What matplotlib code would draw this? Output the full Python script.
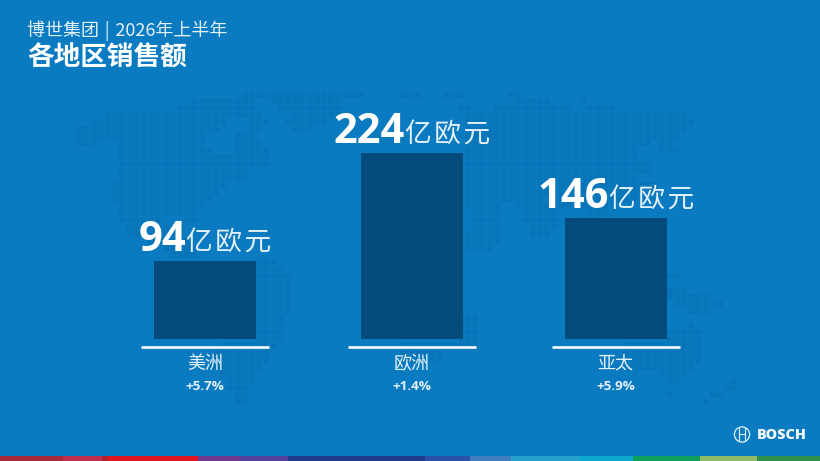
import matplotlib
matplotlib.use("Agg")
import matplotlib.pyplot as plt
from matplotlib.patches import Circle, Rectangle

CJK = ['Noto Sans CJK SC', 'DejaVu Sans']
LAT = ['Open Sans', 'Noto Sans CJK SC', 'DejaVu Sans']

# ---- data ----
categories = ['美洲', '欧洲', '亚太']
sales = [94, 224, 146]
growth = ['+5.7%', '+1.4%', '+5.9%']
unit = '亿\u200a欧\u200a元'
kicker = '博世集团 \u200a|\u200a 2026年上半年'
title = '各地区销售额'

# ---- style ----
W, H = 820, 461
BG = '#0A7BC1'
DOT = '#0975B9'
BAR = '#024B7A'
WHITE = '#FFFFFF'
SOFT = '#E4F1F9'
BAR_X = [205, 412, 615.5]
BAR_W = 102
BASE_PX = 339
PX_PER_UNIT = 0.83

fig = plt.figure(figsize=((W + 0.01) / 100, (H + 0.01) / 100), dpi=100, facecolor=BG)

# decoration layer in pixel coordinates
deco = fig.add_axes([0, 0, 1, 1])
deco.set_xlim(0, W)
deco.set_ylim(H, 0)
deco.axis('off')

# dotted world map: (row y, [(x0, x1), ...])
map_rows = {
    95: [(243, 362), (400, 420), (445, 463), (510, 520)],
    101: [(193, 257), (270, 345), (520, 550), (580, 586)],
    108: [(180, 257), (280, 345), (460, 470), (500, 575), (587, 613)],
    115: [(108, 262), (295, 345), (470, 690)],
    122: [(93, 225), (250, 270), (287, 330), (470, 693)],
    129: [(80, 220), (250, 265), (295, 310), (470, 690)],
    136: [(80, 205), (240, 255), (470, 680)],
    143: [(80, 95), (120, 205), (237, 262), (465, 650), (660, 675)],
    150: [(122, 210), (237, 270), (465, 640), (665, 680)],
    157: [(122, 270), (465, 640)],
    164: [(122, 270), (465, 650)],
    171: [(122, 250), (470, 650)],
    178: [(122, 245), (470, 640)],
    185: [(115, 225), (470, 660)],
    192: [(115, 220), (470, 640)],
    199: [(115, 215), (470, 540), (560, 640)],
    206: [(122, 205), (470, 500), (520, 610)],
    213: [(122, 200), (475, 500), (525, 560), (590, 605)],
    220: [(122, 160), (185, 195), (475, 500), (525, 560), (585, 600)],
    227: [(130, 170), (475, 500), (530, 555)],
    234: [(130, 180), (470, 500), (535, 550)],
    241: [(150, 190), (470, 500)],
    248: [(165, 195), (470, 490)],
    255: [(170, 200)],
    262: [(258, 280)],
    269: [(258, 285)],
    276: [(258, 288), (670, 680)],
    283: [(258, 292)],
    290: [(258, 292), (670, 690)],
    297: [(258, 292), (673, 700), (708, 712)],
    304: [(258, 292), (680, 720)],
    311: [(258, 290), (690, 708)],
    318: [(258, 286), (463, 478)],
    325: [(258, 284), (463, 480), (690, 695)],
    332: [(258, 282), (463, 480), (670, 700)],
    339: [(258, 282), (463, 480), (670, 700)],
    346: [(220, 280), (400, 478), (627, 700)],
    353: [(215, 272), (400, 445), (627, 700)],
    360: [(215, 270), (405, 443), (630, 700)],
    367: [(215, 265), (630, 695)],
    374: [(220, 255), (660, 690)],
    381: [(230, 255), (670, 680), (735, 740)],
    388: [(232, 250), (725, 735)],
    395: [(235, 245), (670, 675), (715, 720)],
    402: [(238, 245), (702, 712)],
}
mx, my = [], []
for ry, spans in map_rows.items():
    for x0, x1 in spans:
        k = round(x0 / 7.2)
        while k * 7.2 <= x1:
            mx.append(k * 7.2)
            my.append(ry)
            k += 1
deco.scatter(mx, my, s=13.5, marker='s', color=DOT, linewidths=0, zorder=1)

# bottom colour strip
strip = [(0, 63, '#A62A3A'), (63, 102, '#BE2F4B'), (102, 108, '#B3222C'),
         (108, 198, '#DF161F'), (198, 240, '#70398F'), (240, 288, '#55409B'),
         (288, 425, '#1F3B8E'), (425, 470, '#2B52A6'), (470, 511, '#3F7FBD'),
         (511, 580, '#23A0CC'), (580, 633, '#0CA8D0'), (633, 700, '#0E9F5B'),
         (700, 757, '#8DBB67'), (757, 820, '#2F8E49')]
for x0, x1, c in strip:
    deco.add_patch(Rectangle((x0, 456), x1 - x0, 5, fc=c, ec='none', zorder=2))

# white rules under the bars
for cx in BAR_X:
    deco.plot([cx - 64, cx + 64], [347.5, 347.5], color=WHITE, lw=1.9,
              solid_capstyle='butt', zorder=3)

# headings
deco.text(27, 31, kicker, color=SOFT, fontsize=13, family=CJK, va='center', ha='left', zorder=5)
deco.text(27, 58, title, color=WHITE, fontsize=19.2, family=CJK, weight='bold', va='center', ha='left', zorder=5)

# logo
lc = (742, 434.5)
deco.add_patch(Circle(lc, 7.6, fc='none', ec=SOFT, lw=0.9, zorder=5))
deco.plot([lc[0] - 3, lc[0] - 3], [428, 441], color=SOFT, lw=0.8, zorder=5)
deco.plot([lc[0] + 3, lc[0] + 3], [428, 441], color=SOFT, lw=0.8, zorder=5)
deco.plot([lc[0] - 3, lc[0] + 3], [434.5, 434.5], color=SOFT, lw=0.8, zorder=5)
deco.text(757, 435, 'BOSCH', color='#F2F8FC', fontsize=10.4, family=LAT, weight='heavy', va='center', ha='left', zorder=5)

# chart layer: baseline at BASE_PX
ax = fig.add_axes([0, 1 - BASE_PX / H, 1, BASE_PX / H], facecolor='none')
ax.set_xlim(0, W)
ax.set_ylim(0, BASE_PX / PX_PER_UNIT)
for s in ax.spines.values():
    s.set_visible(False)
ax.yaxis.set_visible(False)
ax.bar(BAR_X, sales, width=BAR_W, color=BAR, linewidth=0, zorder=4)
ax.set_xticks(BAR_X, categories, family=CJK, fontsize=13, color=SOFT)
ax.tick_params(axis='x', length=0, pad=11.5)

fig.canvas.draw()
rend = fig.canvas.get_renderer()
for cx, v, g in zip(BAR_X, sales, growth):
    ax.annotate(g, (cx, 0), xytext=(0, -34), textcoords='offset points', ha='center', va='center',
                fontsize=9.6, family=LAT, weight='bold', color=SOFT, zorder=6)
    num = ax.annotate(str(v), (cx, v), xytext=(0, 7.2), textcoords='offset points', ha='right', va='baseline',
                      fontsize=30, family=LAT, weight='bold', color=WHITE, zorder=6)
    un = ax.annotate(unit, (cx, v), xytext=(0, 7.2), textcoords='offset points', ha='left', va='baseline',
                     fontsize=19.2, family=CJK, color=SOFT, zorder=6)
    wn = num.get_window_extent(rend).width
    wu = un.get_window_extent(rend).width
    shift = (wn - wu) / 2 * 72 / 100
    num.xyann = (shift, 7.2)
    un.xyann = (shift, 7.2)

fig.savefig('out.png', dpi=100, facecolor=BG)
